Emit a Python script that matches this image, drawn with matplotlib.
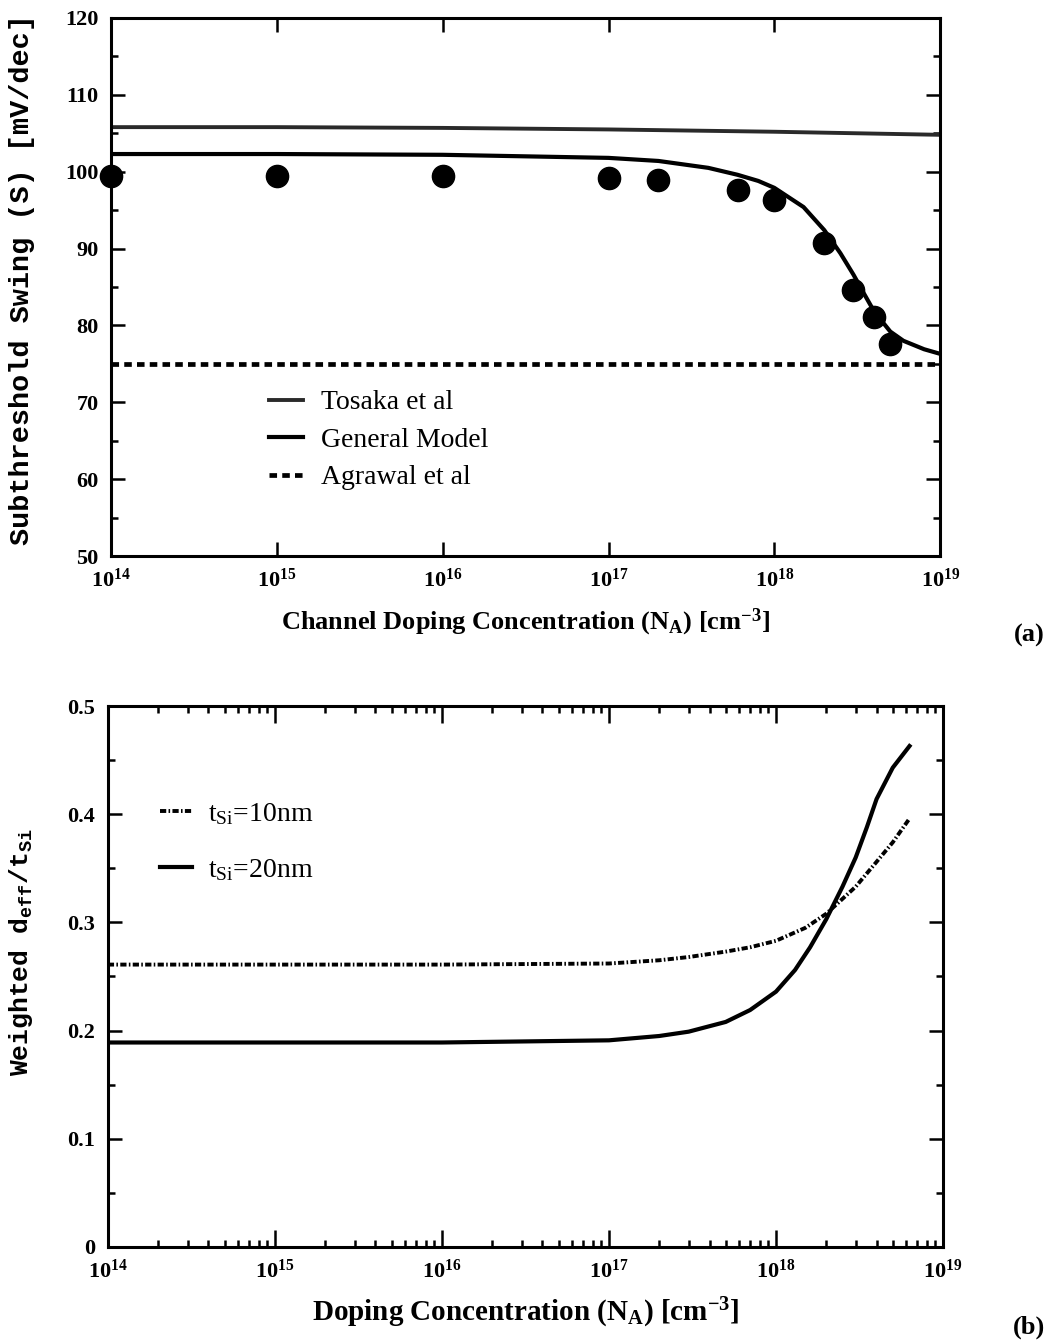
import numpy as np
import matplotlib
matplotlib.use("Agg")
import matplotlib.pyplot as plt
from matplotlib.ticker import FixedLocator, FuncFormatter, LogLocator, NullFormatter

plt.rcParams["mathtext.fontset"] = "custom"
plt.rcParams["mathtext.rm"] = "Liberation Serif"
plt.rcParams["mathtext.it"] = "Liberation Serif:italic"
plt.rcParams["mathtext.bf"] = "Liberation Serif:bold"
plt.rcParams["mathtext.tt"] = "Liberation Mono:bold"

# ---- panel (a) data ----
tosaka_x = [1e14, 1e15, 1e16, 1e17, 1e18, 1e19]
tosaka_y = [105.8, 105.8, 105.7, 105.5, 105.2, 104.8]

model_x = [1e14, 1e15, 1e16, 1e17, 2e17, 4e17, 6e17, 8e17, 1e18, 1.5e18, 2e18,
           2.5e18, 3e18, 3.5e18, 4e18, 5e18, 6e18, 8e18, 1e19]
model_y = [102.3, 102.3, 102.2, 101.8, 101.4, 100.5, 99.6, 98.8, 97.9, 95.4, 92.4,
           89.4, 86.6, 84.0, 81.8, 79.2, 78.0, 76.9, 76.3]

agrawal_x = [1e14, 1e19]
agrawal_y = [75.0, 75.0]

meas_x = [1e14, 1e15, 1e16, 1e17, 2e17, 6e17, 1e18, 2e18, 3e18, 4e18, 5e18]
meas_y = [99.5, 99.5, 99.5, 99.2, 98.9, 97.6, 96.3, 90.7, 84.6, 81.1, 77.6]

# ---- panel (b) data ----
t10_x = [1e14, 1e15, 1e16, 1e17, 2e17, 3e17, 5e17, 7e17, 1e18, 1.5e18, 2e18,
         3e18, 4e18, 5e18, 6.3e18]
t10_y = [0.261, 0.261, 0.261, 0.262, 0.265, 0.268, 0.273, 0.277, 0.283, 0.295, 0.308,
         0.333, 0.356, 0.374, 0.396]

t20_x = [1e14, 1e15, 1e16, 1e17, 2e17, 3e17, 5e17, 7e17, 1e18, 1.3e18, 1.6e18,
         2e18, 2.5e18, 3e18, 3.5e18, 4e18, 5e18, 6.3e18]
t20_y = [0.189, 0.189, 0.189, 0.191, 0.195, 0.199, 0.208, 0.219, 0.236, 0.256, 0.277,
         0.303, 0.333, 0.360, 0.388, 0.414, 0.443, 0.463]

fig = plt.figure(figsize=(10.47, 13.43), dpi=100)


def style_axes(ax):
    for sp in ax.spines.values():
        sp.set_linewidth(2.2)
    ax.tick_params(which="both", direction="in", top=True, right=True, width=1.8)
    ax.tick_params(which="major", length=10)
    ax.tick_params(which="minor", length=5)
    ax.tick_params(axis="x", pad=9)
    ax.tick_params(axis="y", pad=9)
    for lab in ax.get_xticklabels() + ax.get_yticklabels():
        lab.set_fontfamily("Liberation Serif")
        lab.set_fontweight("bold")
        lab.set_fontsize(16)


def dec_fmt(v, pos):
    return r"$\mathbf{10^{%d}}$" % int(round(np.log10(v)))


# ---------------- panel (a) ----------------
ax1 = fig.add_axes([0.106, 0.586, 0.792, 0.4006])
ax1.semilogx(tosaka_x, tosaka_y, color="#2a2a2a", lw=2.8, label="Tosaka et al")
ax1.semilogx(model_x, model_y, color="black", lw=3.0, label="General Model")
ax1.semilogx(agrawal_x, agrawal_y, color="black", lw=3.4,
             linestyle=(0, (1.6, 1.1)), label="Agrawal et al")
ax1.plot(meas_x, meas_y, "o", color="black", ms=16, clip_on=False, zorder=5)
ax1.set_xlim(1e14, 1e19)
ax1.set_ylim(50, 120)
ax1.xaxis.set_major_locator(FixedLocator([1e14, 1e15, 1e16, 1e17, 1e18, 1e19]))
ax1.xaxis.set_minor_locator(FixedLocator([]))
ax1.xaxis.set_major_formatter(FuncFormatter(dec_fmt))
ax1.yaxis.set_major_locator(FixedLocator(np.arange(50, 121, 10)))
ax1.yaxis.set_minor_locator(FixedLocator(np.arange(55, 120, 10)))
style_axes(ax1)
ax1.set_xlabel(r"Channel Doping Concentration (N$_\mathbf{A}$) [cm$^{\mathbf{-3}}$]",
               fontfamily="Liberation Serif", fontweight="bold", fontsize=19)
ax1.xaxis.set_label_coords(0.5, -0.094)
ax1.set_ylabel("Subthreshold Swing (S) [mV/dec]", fontfamily="Liberation Mono",
               fontweight="bold", fontsize=20.5)
ax1.yaxis.set_label_coords(-0.092, 0.513)
ax1.legend(loc="upper left", bbox_to_anchor=(0.16, 0.355), frameon=False,
           prop={"family": "Liberation Serif", "size": 20},
           handlelength=1.25, handletextpad=0.65, labelspacing=0.43)
fig.text(0.998, 0.527, "(a)", ha="right", va="center",
         fontfamily="Liberation Serif", fontweight="bold", fontsize=19)

# ---------------- panel (b) ----------------
ax2 = fig.add_axes([0.103, 0.0715, 0.7977, 0.4028])
ax2.semilogx(t10_x, t10_y, color="black", lw=2.8,
             linestyle=(0, (1.6, 0.6, 0.4, 0.6)), label=r"t$_{\mathregular{Si}}$=10nm")
ax2.semilogx(t20_x, t20_y, color="black", lw=3.0, label=r"t$_{\mathregular{Si}}$=20nm")
ax2.set_xlim(1e14, 1e19)
ax2.set_ylim(0, 0.5)
ax2.xaxis.set_major_locator(FixedLocator([1e14, 1e15, 1e16, 1e17, 1e18, 1e19]))
ax2.xaxis.set_minor_locator(LogLocator(base=10, subs=np.arange(2, 10), numticks=20))
ax2.xaxis.set_minor_formatter(NullFormatter())
ax2.xaxis.set_major_formatter(FuncFormatter(dec_fmt))
ax2.yaxis.set_major_locator(FixedLocator([0, 0.1, 0.2, 0.3, 0.4, 0.5]))
ax2.yaxis.set_minor_locator(FixedLocator([0.05, 0.15, 0.25, 0.35, 0.45]))
ax2.yaxis.set_major_formatter(FuncFormatter(lambda v, p: "0" if v == 0 else "%.1f" % v))
style_axes(ax2)
ax2.tick_params(which="major", axis="x", length=12)
ax2.set_xlabel(r"Doping Concentration (N$_\mathbf{A}$) [cm$^{\mathbf{-3}}$]",
               fontfamily="Liberation Serif", fontweight="bold", fontsize=21)
ax2.xaxis.set_label_coords(0.5, -0.090)
ax2.set_ylabel(r"Weighted $\mathtt{d_{eff}/t_{Si}}$", fontfamily="Liberation Mono",
               fontweight="bold", fontsize=19)
ax2.yaxis.set_label_coords(-0.087, 0.545)
ax2.legend(loc="upper left", bbox_to_anchor=(0.032, 0.871), frameon=False,
           prop={"family": "Liberation Serif", "size": 20},
           handlelength=1.15, handletextpad=0.58, labelspacing=1.1)
fig.text(0.998, 0.012, "(b)", ha="right", va="center",
         fontfamily="Liberation Serif", fontweight="bold", fontsize=19)

fig.savefig("out.png", dpi=100)
